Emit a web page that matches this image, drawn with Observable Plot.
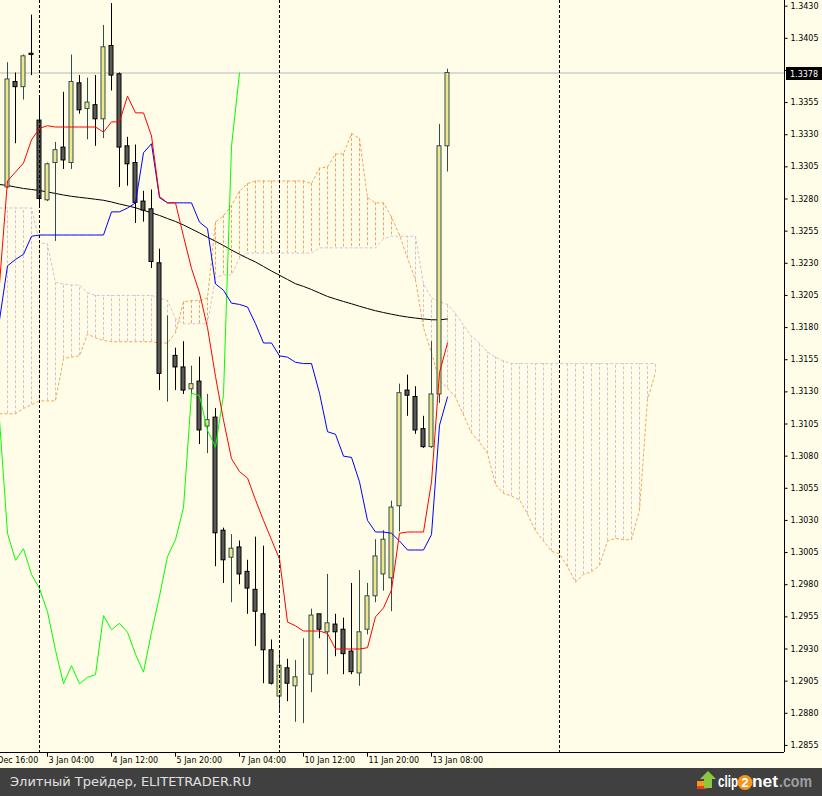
<!DOCTYPE html>
<html>
<head>
<meta charset="utf-8">
<script src="https://cdn.jsdelivr.net/npm/d3@7"></script>
<script src="https://cdn.jsdelivr.net/npm/@observablehq/plot@0.6"></script>
<style>
  html, body { margin: 0; padding: 0; background: #FFFDE7; }
  #wrap { width: 822px; }
  #footer { position: relative; width: 822px; height: 28px; background: #404040; overflow: hidden; }
  #cap { position: absolute; left: 10px; top: 0; line-height: 28px; color: #E0E0E0;
         font-family: "DejaVu Sans", sans-serif; font-size: 13px; white-space: nowrap; }
  #logo { position: absolute; left: 692px; top: 0; }
</style>
</head>
<body>
<div id="wrap">
  <div id="chart"></div>
  <div id="footer">
    <span id="cap">Элитный Трейдер, ELITETRADER.RU</span>
    <svg id="logo" width="130" height="28">
      <rect x="5" y="13" width="10" height="7" fill="#F39A1E"></rect>
      <rect x="5" y="18" width="10" height="3" fill="#E2401C"></rect>
      <polygon points="16,3 24,11 20,11 20,20 12,20 12,11 8,11" fill="#8DC63F"></polygon>
      <circle cx="53" cy="14.5" r="7.5" fill="#F7941D"></circle>
      <text y="19" font-family="Liberation Sans Narrow, Liberation Sans, sans-serif" font-weight="bold" font-size="16" fill="#FFFFFF"><tspan x="26" textLength="20" lengthAdjust="spacingAndGlyphs">clip</tspan><tspan x="49.5" font-size="13">2</tspan><tspan x="60" textLength="26" lengthAdjust="spacingAndGlyphs">net</tspan><tspan x="87" fill="#9E9E9E" textLength="33" lengthAdjust="spacingAndGlyphs">.com</tspan></text>
    </svg>
  </div>
</div>
<script>
// ---- Candles (bar index 0..55, H4 bars) ----
const open = [1.3289,1.3371,1.3367,1.3393,1.3341,1.3279,1.3308,1.3320,1.3308,1.3370,
  1.3350,1.3353,1.3342,1.3399,1.3377,1.3321,1.3308,1.3278,1.3272,1.3230,
  1.3159,1.3158,1.3149,1.3132,1.3138,1.3103,1.3110,1.3022,1.3001,1.3009,
  1.2990,1.2976,1.2957,1.2929,1.2893,1.2915,1.2901,1.2910,1.2910,1.2957,
  1.2943,1.2949,1.2945,1.2928,1.2911,1.2945,1.2971,1.2988,1.2985,1.3041,
  1.3131,1.3126,1.3101,1.3087,1.3128,1.3321];
const high = [1.3386,1.3378,1.3392,1.3423,1.3360,1.3308,1.3324,1.3363,1.3392,1.3376,
  1.3374,1.3376,1.3415,1.3432,1.3378,1.3328,1.3322,1.3286,1.3287,1.3241,
  1.3189,1.3164,1.3169,1.3150,1.3157,1.3128,1.3117,1.3024,1.3019,1.3014,
  1.2999,1.3017,1.3010,1.2937,1.2928,1.2922,1.2921,1.2938,1.2961,1.2957,
  1.2988,1.2957,1.2954,1.2981,1.2991,1.2981,1.3015,1.3022,1.3045,1.3136,
  1.3143,1.3134,1.3111,1.3169,1.3338,1.3381];
const low = [1.3288,1.3323,1.3357,1.3376,1.3273,1.3278,1.3247,1.3303,1.3303,1.3346,
  1.3326,1.3321,1.3327,1.3364,1.3289,1.3290,1.3261,1.3262,1.3226,1.3131,
  1.3122,1.3131,1.3128,1.3128,1.3089,1.3082,1.2994,1.2981,1.2966,1.2980,
  1.2957,1.2932,1.2903,1.2902,1.2881,1.2889,1.2873,1.2872,1.2896,1.2938,
  1.2910,1.2924,1.2910,1.2910,1.2901,1.2941,1.2966,1.2975,1.2959,1.3021,
  1.3111,1.3097,1.3086,1.3086,1.3121,1.3301];
const close = [1.3373,1.3367,1.3391,1.3392,1.3280,1.3307,1.3318,1.3310,1.3371,1.3349,
  1.3355,1.3342,1.3398,1.3376,1.3320,1.3307,1.3277,1.3271,1.3231,1.3144,
  1.3159,1.3149,1.3131,1.3136,1.3100,1.3108,1.3020,1.2999,1.3008,1.2988,
  1.2977,1.2959,1.2929,1.2903,1.2917,1.2903,1.2908,1.2910,1.2956,1.2945,
  1.2950,1.2943,1.2926,1.2912,1.2943,1.2971,1.3002,1.3015,1.3040,1.3129,
  1.3127,1.3100,1.3087,1.3128,1.3321,1.3378];

// ---- Indicator lines, bar index -1..55 ----
const tenkan = [1.3214,
  1.3294,1.3301,1.3308,1.3326,1.3335,1.3337,1.3336,1.3336,1.3336,1.3336,
  1.3336,1.3336,1.3332,1.3340,1.3340,1.3360,1.3347,1.3347,1.3329,1.3282,
  1.3277,1.3277,1.3251,1.3226,1.3207,1.3180,1.3142,1.3108,1.3078,1.3068,
  1.3063,1.3046,1.3030,1.3015,1.3000,1.2951,1.2948,1.2944,1.2944,1.2944,
  1.2942,1.2930,1.2930,1.2930,1.2930,1.2931,1.2955,1.2962,1.2976,1.3020,
  1.3021,1.3021,1.3021,1.3060,1.3145,1.3168];
const kijun = [1.3186,
  1.3228,1.3233,1.3237,1.3251,1.3252,1.3252,1.3252,1.3252,1.3252,1.3252,
  1.3252,1.3252,1.3252,1.3270,1.3270,1.3273,1.3277,1.3316,1.3323,1.3281,
  1.3277,1.3277,1.3277,1.3277,1.3262,1.3257,1.3214,1.3209,1.3199,1.3198,
  1.3196,1.3183,1.3168,1.3168,1.3158,1.3157,1.3153,1.3152,1.3152,1.3129,
  1.3099,1.3097,1.3080,1.3079,1.3060,1.3030,1.3021,1.3021,1.3020,1.3014,
  1.3007,1.3007,1.3007,1.3019,1.3104,1.3126];
const movingAvg = [1.32913,
  1.32905,1.32893,1.32882,1.32874,1.32866,1.32855,1.32843,1.32831,1.32821,1.32813,
  1.32806,1.32798,1.32790,1.32777,1.32761,1.32747,1.32732,1.32712,1.32693,1.32672,
  1.32648,1.32625,1.32598,1.32567,1.32536,1.32503,1.32471,1.32438,1.32403,1.32370,
  1.32339,1.32310,1.32275,1.32240,1.32207,1.32174,1.32141,1.32120,1.32096,1.32069,
  1.32042,1.32022,1.32003,1.31985,1.31966,1.31948,1.31931,1.31917,1.31904,1.31892,
  1.31882,1.31874,1.31867,1.31861,1.31860,1.31867];

// ---- Cloud (Senkou spans), bar index -1..81 ----
const spanA = [1.3113,
  1.3113,1.3113,1.3117,1.3120,1.3123,1.3123,1.3123,1.3156,1.3157,1.3158,
  1.3175,1.3172,1.3170,1.3169,1.3169,1.3169,1.3169,1.3169,1.3169,1.3168,
  1.3168,1.3176,1.3200,1.3201,1.3201,1.3203,1.3262,1.3267,1.3275,1.3286,
  1.3292,1.3294,1.3294,1.3294,1.3294,1.3294,1.3294,1.3294,1.3292,1.3304,
  1.3305,1.3315,1.3315,1.3331,1.3327,1.3281,1.3277,1.3277,1.3266,1.3252,
  1.3234,1.3217,1.3180,1.3160,1.3139,1.3133,1.3126,1.3112,1.3098,1.3091,
  1.3082,1.3058,1.3051,1.3049,1.3046,1.3035,1.3022,1.3014,1.3006,1.3004,
  1.2994,1.2982,1.2988,1.2990,1.2995,1.3014,1.3016,1.3015,1.3015,1.3038,
  1.3124,1.3145];
const spanB = [1.3273,
  1.3273,1.3273,1.3273,1.3273,1.3246,1.3245,1.3215,1.3214,1.3213,1.3213,
  1.3207,1.3205,1.3205,1.3205,1.3205,1.3205,1.3205,1.3205,1.3205,1.3203,
  1.3201,1.3187,1.3183,1.3183,1.3183,1.3183,1.3219,1.3221,1.3221,1.3234,
  1.3238,1.3238,1.3238,1.3238,1.3238,1.3238,1.3238,1.3238,1.3238,1.3242,
  1.3242,1.3242,1.3242,1.3242,1.3242,1.3242,1.3242,1.3249,1.3251,1.3251,
  1.3251,1.3251,1.3214,1.3203,1.3200,1.3198,1.3191,1.3182,1.3173,1.3168,
  1.3161,1.3157,1.3154,1.3152,1.3152,1.3152,1.3152,1.3152,1.3152,1.3152,
  1.3152,1.3152,1.3152,1.3152,1.3152,1.3152,1.3152,1.3152,1.3152,1.3152,
  1.3152,1.3152];

const chikouShift = 26;
const separators = [4, 34, 69];
const yTicks = [1.3430,1.3405,1.3380,1.3355,1.3330,1.3305,1.3280,1.3255,1.3230,1.3205,
  1.3180,1.3155,1.3130,1.3105,1.3080,1.3055,1.3030,1.3005,1.2980,1.2955,1.2930,1.2905,1.2880,1.2855];
const xTickBars = [-3, 5, 13, 21, 29, 37, 45, 53];
const xTickLabels = ["31 Dec 16:00","3 Jan 04:00","4 Jan 12:00","5 Jan 20:00","7 Jan 04:00",
  "10 Jan 12:00","11 Jan 20:00","13 Jan 08:00"];

// ---- build tables ----
const candles = open.map((o, i) => ({n: i, open: o, high: high[i], low: low[i], close: close[i]}));
const bulls = candles.filter(d => d.close >= d.open);
const bears = candles.filter(d => d.close < d.open);
const ind = tenkan.map((t, i) => ({n: i - 1, tenkan: t, kijun: kijun[i], ma: movingAvg[i]}));
const cloud = spanA.map((a, i) => ({n: i - 1, a, b: spanB[i]}));
const chikou = candles.filter(d => d.n - chikouShift >= -1).map(d => ({n: d.n - chikouShift, v: d.close}));
const lastClose = close[close.length - 1];

const W = 822, H = 768, MR = 38, MB = 16;
const nMin = -0.875, nMax = 97.125;
const yMin = 1.28495, yMax = 1.34344;

const ORANGE = "#F4A460", THISTLE = "#D8BFD8";
const dash = "3,2";

const plot = Plot.plot({
  width: W, height: H,
  marginLeft: 0, marginRight: MR, marginTop: 0, marginBottom: MB,
  x: {domain: [nMin, nMax], axis: null},
  y: {domain: [yMin, yMax], axis: null},
  style: {background: "#FFFDE7", fontFamily: "'DejaVu Sans', sans-serif", fontSize: "8px", overflow: "hidden"},
  marks: [
    Plot.ruleX(cloud.filter(d => d.b > d.a), {x: "n", y1: "a", y2: "b", stroke: THISTLE, strokeWidth: 1, strokeDasharray: dash}),
    Plot.ruleX(cloud.filter(d => d.a >= d.b), {x: "n", y1: "a", y2: "b", stroke: ORANGE, strokeWidth: 1, strokeDasharray: dash}),
    Plot.line(cloud, {x: "n", y: "b", stroke: THISTLE, strokeWidth: 1, strokeDasharray: dash, strokeLinecap: "butt"}),
    Plot.line(cloud, {x: "n", y: "a", stroke: ORANGE, strokeWidth: 1, strokeDasharray: dash, strokeLinecap: "butt"}),
    Plot.ruleY([lastClose], {stroke: "#B8B8B8", strokeWidth: 1}),
    Plot.line(ind, {x: "n", y: "ma", stroke: "#000000", strokeWidth: 1}),
    Plot.ruleX(bulls, {x: "n", y1: "low", y2: "high", stroke: "#2F4F4F", strokeWidth: 1}),
    Plot.ruleX(bears, {x: "n", y1: "low", y2: "high", stroke: "#000000", strokeWidth: 1}),
    Plot.rect(bulls, {x1: d => d.n - 0.25, x2: d => d.n + 0.25, y1: "open", y2: "close", fill: "#F0E68C", stroke: "#2F4F4F", strokeWidth: 1}),
    Plot.rect(bears, {x1: d => d.n - 0.25, x2: d => d.n + 0.25, y1: "open", y2: "close", fill: "#5A5A5A", stroke: "#000000", strokeWidth: 1}),
    Plot.line(chikou, {x: "n", y: "v", stroke: "#00FF00", strokeWidth: 1}),
    Plot.line(ind, {x: "n", y: "kijun", stroke: "#0000FF", strokeWidth: 1}),
    Plot.line(ind, {x: "n", y: "tenkan", stroke: "#FF0000", strokeWidth: 1}),
    Plot.ruleX(separators, {stroke: "#000000", strokeWidth: 1, strokeDasharray: dash}),
    Plot.ruleX([nMax], {stroke: "#000000", strokeWidth: 1}),
    Plot.ruleY([yMin], {stroke: "#000000", strokeWidth: 1}),
    Plot.ruleY(yTicks, {y: d => d, x1: nMax, x2: nMax + 0.45, stroke: "#000000", strokeWidth: 1}),
    Plot.text(yTicks.filter(t => Math.abs(t - lastClose) > 0.0008), {y: d => d, frameAnchor: "right", dx: 6, textAnchor: "start", text: d => d.toFixed(4), fontSize: 8, fill: "#000000"}),
    Plot.ruleX(xTickBars, {x: d => d, y1: yMin, y2: yMin - 0.00036, stroke: "#000000", strokeWidth: 1}),
    Plot.text(xTickBars, {x: d => d, frameAnchor: "bottom", dy: 10, dx: 1, textAnchor: "start", text: (d, i) => xTickLabels[i], fontSize: 8, fill: "#000000"})
  ]
});
plot.style.overflow = "hidden";
document.getElementById("chart").appendChild(plot);

// current price marker on the right scale (y from Plot's own scale)
const ys = plot.scale("y");
const py = Math.round(ys.apply(lastClose));
const px = W - MR;
const g = d3.select(plot).append("g");
g.append("rect").attr("x", px + 2).attr("y", py - 6).attr("width", MR - 2).attr("height", 13).attr("fill", "#000000");
g.append("text").attr("x", px + 6).attr("y", py + 4).attr("fill", "#FFFFFF")
  .attr("text-anchor", "start")
  .attr("font-family", "'DejaVu Sans', sans-serif").attr("font-size", 8).text(lastClose.toFixed(4));
</script>
</body>
</html>
